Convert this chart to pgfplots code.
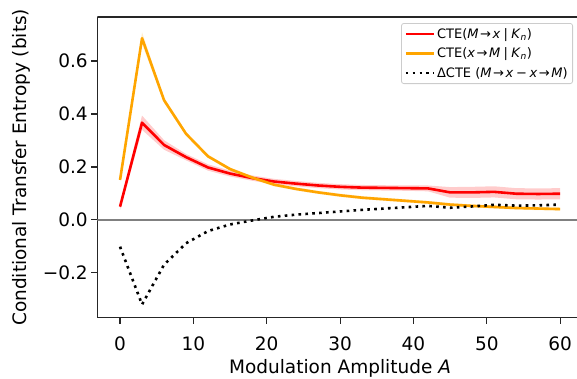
\documentclass[border=0pt]{standalone}
\usepackage{fontspec}
\setmainfont{DejaVu Sans}
\usepackage{pgfplots}
\pgfplotsset{compat=1.18}
\usepackage{pgfplotstable}
\usepgfplotslibrary{fillbetween}
\definecolor{cred}{HTML}{FF0000}
\definecolor{corange}{HTML}{FFA500}
\pgfplotstableread{
A r rl rh o ol oh d
0 0.050 0.038 0.062 0.151 0.143 0.159 -0.101
3 0.367 0.340 0.394 0.686 0.664 0.708 -0.319
6 0.283 0.265 0.301 0.452 0.442 0.462 -0.169
9 0.237 0.225 0.249 0.325 0.318 0.332 -0.088
12 0.198 0.186 0.210 0.240 0.234 0.246 -0.042
15 0.175 0.164 0.186 0.192 0.186 0.198 -0.017
18 0.158 0.148 0.168 0.160 0.154 0.166 -0.002
21 0.145 0.135 0.155 0.133 0.127 0.139 0.012
24 0.137 0.127 0.147 0.117 0.111 0.123 0.020
27 0.130 0.120 0.140 0.104 0.098 0.110 0.026
30 0.125 0.115 0.135 0.093 0.087 0.099 0.032
33 0.122 0.112 0.132 0.084 0.078 0.090 0.038
36 0.121 0.111 0.131 0.078 0.072 0.084 0.043
39 0.120 0.110 0.130 0.072 0.066 0.078 0.048
42 0.119 0.108 0.130 0.066 0.060 0.072 0.053
45 0.104 0.084 0.124 0.058 0.052 0.064 0.046
48 0.104 0.083 0.125 0.053 0.047 0.059 0.051
51 0.106 0.085 0.127 0.049 0.043 0.055 0.057
54 0.099 0.078 0.120 0.045 0.039 0.051 0.054
57 0.098 0.077 0.119 0.043 0.037 0.049 0.055
60 0.099 0.078 0.120 0.041 0.035 0.047 0.058
}\data
\begin{document}
\begin{tikzpicture}
\begin{axis}[
  scale only axis, width=479.7pt, height=300.7pt,
  at={(0,0)}, anchor=south west,
  xmin=-3.1, xmax=62.3, ymin=-0.369, ymax=0.766,
  axis lines*=left,
  axis line style={line width=1.1pt, black!85},
  tick align=outside, major tick length=6pt,
  every tick/.style={black!85, line width=1.1pt},
  xtick={0,10,20,30,40,50,60},
  xticklabels={0,10,20,30,40,50,60},
  ytick={-0.2,0,0.2,0.4,0.6},
  yticklabels={−0.2,0.0,0.2,0.4,0.6},
  tick label style={font=\fontsize{18.5}{22}\selectfont},
  xticklabel style={yshift=-10pt},
  xlabel={Modulation Amplitude \textit{A}},
  ylabel={Conditional Transfer Entropy (bits)},
  xlabel style={at={(axis description cs:0.506,-0.1856)}, anchor=base, font=\fontsize{18.5}{22}\selectfont},
  ylabel style={at={(axis description cs:-0.1476,0.5)}, anchor=base, font=\fontsize{18.5}{22}\selectfont},
  legend style={at={(axis description cs:0.9917,0.980)}, anchor=north east,
    draw=black!20, line width=0.8pt, rounded corners=2.5pt,
    font=\fontsize{13}{15}\selectfont, fill=white, fill opacity=0.8, text opacity=1,
    inner xsep=3pt, inner ysep=3pt, row sep=4pt, cells={anchor=west}},
  legend image code/.code={\draw[#1] (0pt,0pt) -- (28pt,0pt);},
]
\addplot[draw=none, name path=rh, forget plot] table[x=A,y=rh]{\data};
\addplot[draw=none, name path=rl, forget plot] table[x=A,y=rl]{\data};
\addplot[fill=cred, fill opacity=0.2, draw=none, forget plot] fill between[of=rh and rl];
\addplot[draw=none, name path=oh, forget plot] table[x=A,y=oh]{\data};
\addplot[draw=none, name path=ol, forget plot] table[x=A,y=ol]{\data};
\addplot[fill=corange, fill opacity=0.2, draw=none, forget plot] fill between[of=oh and ol];
\addplot[color=black!50, line width=1.4pt, forget plot] coordinates {(-3.1,0) (62.3,0)};
\addplot[color=cred, line width=2.6pt, line join=round] table[x=A,y=r]{\data};
\addlegendentry{CTE(\textit{M}\hspace{0.12em}→\hspace{0.12em}\textit{x}\hspace{0.25em}|\hspace{0.25em}\textit{K}\textsubscript{\textit{n}})}
\addplot[color=corange, line width=2.6pt, line join=round] table[x=A,y=o]{\data};
\addlegendentry{CTE(\textit{x}\hspace{0.12em}→\hspace{0.12em}\textit{M}\hspace{0.25em}|\hspace{0.25em}\textit{K}\textsubscript{\textit{n}})}
\addplot[color=black, line width=2.6pt, dash pattern=on 2.6pt off 4.3pt] table[x=A,y=d]{\data};
\addlegendentry{ΔCTE (\textit{M}\hspace{0.12em}→\hspace{0.12em}\textit{x}\hspace{0.2em}−\hspace{0.2em}\textit{x}\hspace{0.12em}→\hspace{0.12em}\textit{M})}
\draw[line width=1.1pt, black!85] (rel axis cs:0,1) -- (rel axis cs:1,1);
\end{axis}
\pgfresetboundingbox
\path[use as bounding box] (-97.3pt,-60.3pt) rectangle (479.7pt,317.7pt);
\end{tikzpicture}
\end{document}
